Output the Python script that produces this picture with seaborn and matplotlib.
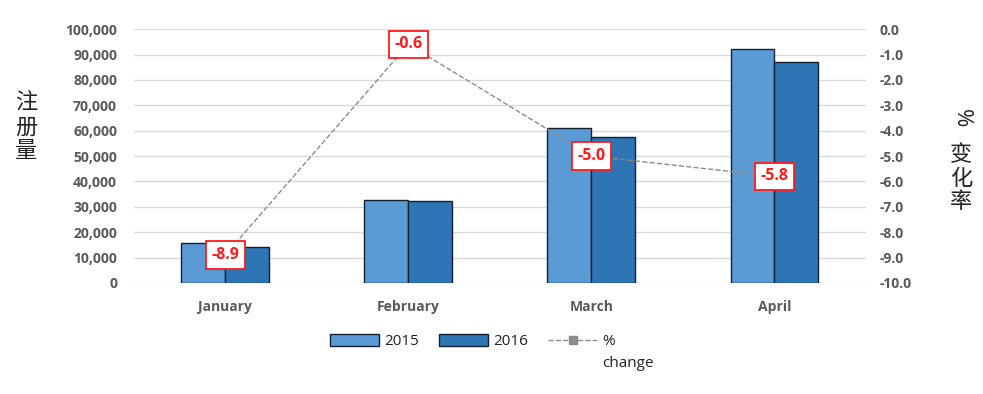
import numpy as np
import pandas as pd
import matplotlib
matplotlib.use('Agg')
import matplotlib.pyplot as plt
from matplotlib.lines import Line2D
from matplotlib.patches import Patch
import seaborn as sns

months = ['January', 'February', 'March', 'April']
reg_2015 = [15700, 32700, 61000, 92200]
reg_2016 = [14200, 32300, 57600, 87100]
pct_change = [-8.9, -0.6, -5.0, -5.8]

c2015 = '#5B9BD5'
c2016 = '#2E75B6'
tick_col = '#595959'
red = '#ff1a1a'

sns.set_theme(style='white')
plt.rcParams['font.family'] = ['Open Sans', 'DejaVu Sans']

df = pd.DataFrame({
    'month': months * 2,
    'year': ['2015'] * 4 + ['2016'] * 4,
    'count': reg_2015 + reg_2016,
})

fig = plt.figure(figsize=(9.83, 3.94), dpi=100)
ax = fig.add_axes([0.136, 0.282, 0.745, 0.644])

sns.barplot(data=df, x='month', y='count', hue='year', order=months,
            palette={'2015': c2015, '2016': c2016}, saturation=1,
            width=0.48, gap=0, edgecolor='#14202e', linewidth=1.0,
            ax=ax, legend=False)

ax.set_ylim(0, 100000)
ax.set_xlim(-0.5, 3.5)
ax.set_yticks(np.arange(0, 100001, 10000))
ax.set_yticklabels([f'{v:,}' for v in range(0, 100001, 10000)])
ax.yaxis.grid(True, color='#d9d9d9', linewidth=1)
ax.set_axisbelow(True)
for s in ax.spines.values():
    s.set_visible(False)
ax.set_xlabel('')
ax.set_ylabel('')
ax.tick_params(axis='y', length=0, pad=12, labelsize=10, labelcolor=tick_col)
ax.tick_params(axis='x', length=0, pad=12, labelsize=10, labelcolor=tick_col)
for t in ax.get_xticklabels() + ax.get_yticklabels():
    t.set_fontweight('bold')

ax2 = ax.twinx()
ax2.plot(range(len(months)), pct_change, color='#8c8c8c', linestyle='--',
         linewidth=1.0, marker='s', markersize=6, zorder=3)
ax2.set_ylim(-10, 0)
ax2.set_yticks(np.arange(-10, 0.1, 1))
ax2.set_yticklabels([f'{v:.1f}' for v in np.arange(-10, 0.1, 1)])
for s in ax2.spines.values():
    s.set_visible(False)
ax2.tick_params(axis='y', length=0, pad=10, labelsize=10, labelcolor=tick_col)
for t in ax2.get_yticklabels():
    t.set_fontweight('bold')

for i, v in enumerate(pct_change):
    ax2.text(i, v, f'{v:.1f}', ha='center', va='center', color=red,
             fontsize=11.5, fontweight='bold', zorder=5,
             bbox=dict(boxstyle='square,pad=0.35', facecolor='white',
                       edgecolor=red, linewidth=1.3))

fig.text(0.027, 0.678, '注\n册\n量', ha='center', va='center', fontsize=16,
         family=['Noto Sans CJK SC'], color='#222222', linespacing=1.05)
fig.text(0.978, 0.70, '%', ha='center', va='center', fontsize=16,
         rotation=-90, color='#222222')
fig.text(0.978, 0.548, '变\n化\n率', ha='center', va='center', fontsize=16,
         family=['Noto Sans CJK SC'], color='#222222', linespacing=1.05)

handles = [
    Patch(facecolor=c2015, edgecolor='#14202e', linewidth=1.0),
    Patch(facecolor=c2016, edgecolor='#14202e', linewidth=1.0),
    Line2D([0], [0], color='#8c8c8c', linestyle='--', marker='s',
           markersize=6, linewidth=1.0),
]
leg = fig.legend(handles, ['2015', '2016', '%'], loc='center',
                 bbox_to_anchor=(0.481, 0.133), ncol=3, frameon=False,
                 fontsize=11, handlelength=3.2, handleheight=0.8,
                 columnspacing=1.3, handletextpad=0.35)
for t in leg.get_texts():
    t.set_color('#222222')

# second line of the "% change" legend label, aligned under the "%"
fig.canvas.draw()
pct_bb = leg.get_texts()[2].get_window_extent()
x0 = pct_bb.x0 / fig.bbox.width
fig.text(x0, 0.077, 'change', ha='left', va='center', fontsize=11,
         color='#222222')

fig.savefig('out.png', dpi=100)
